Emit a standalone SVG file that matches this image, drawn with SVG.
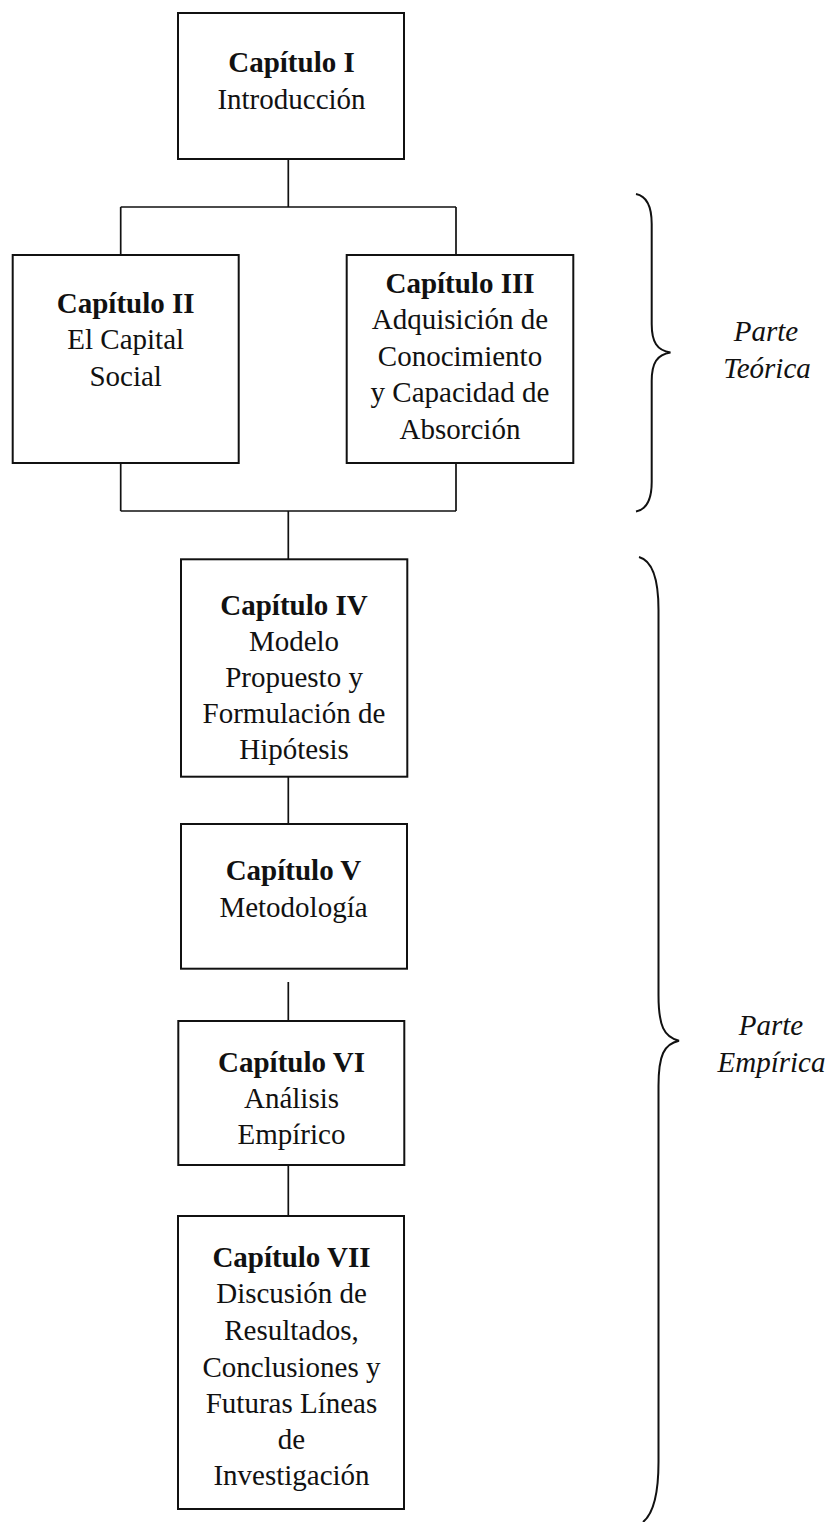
<svg xmlns="http://www.w3.org/2000/svg" width="831" height="1522" viewBox="0 0 831 1522">
  <style>
    .box { fill: #ffffff; stroke: #111111; stroke-width: 2; }
    .link { fill: none; stroke: #111111; stroke-width: 1.7; }
    .brace { fill: none; stroke: #111111; stroke-width: 2; }
    text { font-family: "Liberation Serif", "Times New Roman", serif; font-size: 29px; fill: #111111; text-anchor: middle; }
    .title { font-weight: bold; }
    .part { font-style: italic; }
  </style>
  <rect width="831" height="1522" fill="#ffffff"/>

  <!-- connectors -->
  <g id="connectors">
    <path class="link" d="M288.3,159 V207 M120.7,207 H456 M120.7,207 V255 M456,207 V255"/>
    <path class="link" d="M120.7,463 V511 M456,463 V511 M120.7,511 H456 M288.3,511 V559"/>
    <path class="link" d="M288.3,777 V824"/>
    <path class="link" d="M288.3,982 V1021"/>
    <path class="link" d="M288.3,1165 V1216"/>
  </g>

  <!-- chapter boxes -->
  <g id="cap1">
    <rect class="box" x="178" y="13" width="226" height="146"/>
    <text x="291.5" y="72" class="title">Capítulo I</text>
    <text x="291.5" y="108.5">Introducción</text>
  </g>
  <g id="cap2">
    <rect class="box" x="12.7" y="255" width="226" height="208"/>
    <text x="125.7" y="312.7" class="title">Capítulo II</text>
    <text x="125.7" y="349.2">El Capital</text>
    <text x="125.7" y="385.7">Social</text>
  </g>
  <g id="cap3">
    <rect class="box" x="346.7" y="255" width="226.6" height="208"/>
    <text x="460" y="292.7" class="title">Capítulo III</text>
    <text x="460" y="329">Adquisición de</text>
    <text x="460" y="365.5">Conocimiento</text>
    <text x="460" y="402">y Capacidad de</text>
    <text x="460" y="438.5">Absorción</text>
  </g>
  <g id="cap4">
    <rect class="box" x="181" y="559.3" width="226.3" height="217.4"/>
    <text x="294" y="615" class="title">Capítulo IV</text>
    <text x="294" y="650.5">Modelo</text>
    <text x="294" y="686.7">Propuesto y</text>
    <text x="294" y="722.7">Formulación de</text>
    <text x="294" y="758.5">Hipótesis</text>
  </g>
  <g id="cap5">
    <rect class="box" x="181" y="824" width="226" height="144.7"/>
    <text x="293.5" y="880" class="title">Capítulo V</text>
    <text x="293.5" y="916.7">Metodología</text>
  </g>
  <g id="cap6">
    <rect class="box" x="178.3" y="1021" width="226" height="144"/>
    <text x="291.5" y="1071.7" class="title">Capítulo VI</text>
    <text x="291.5" y="1107.7">Análisis</text>
    <text x="291.5" y="1144">Empírico</text>
  </g>
  <g id="cap7">
    <rect class="box" x="178" y="1216" width="226" height="293"/>
    <text x="291.5" y="1266.7" class="title">Capítulo VII</text>
    <text x="291.5" y="1303.3">Discusión de</text>
    <text x="291.5" y="1340">Resultados,</text>
    <text x="291.5" y="1376.7">Conclusiones y</text>
    <text x="291.5" y="1413.3">Futuras Líneas</text>
    <text x="291.5" y="1449">de</text>
    <text x="291.5" y="1485">Investigación</text>
  </g>

  <!-- theoretical part brace -->
  <g id="parte-teorica">
    <path class="brace" d="M636,194 C646,196 651.7,205 651.7,224 L651.7,324 C651.7,342 657,350.5 670.5,352.5 C657,354.5 651.7,363 651.7,381 L651.7,482 C651.7,500 646,509.5 636,511.5"/>
    <text x="766" y="341" class="part">Parte</text>
    <text x="767" y="377.5" class="part">Teórica</text>
  </g>

  <!-- empirical part brace -->
  <g id="parte-empirica">
    <path class="brace" d="M639,557 C650,560 658.5,575 658.5,610 L658.5,995 C658.5,1026 664,1037 679,1040.7 C664,1044 658.5,1055 658.5,1086 L658.5,1462 C658.5,1496 653,1514 643,1522"/>
    <text x="771" y="1035" class="part">Parte</text>
    <text x="771.5" y="1071.5" class="part">Empírica</text>
  </g>
</svg>
